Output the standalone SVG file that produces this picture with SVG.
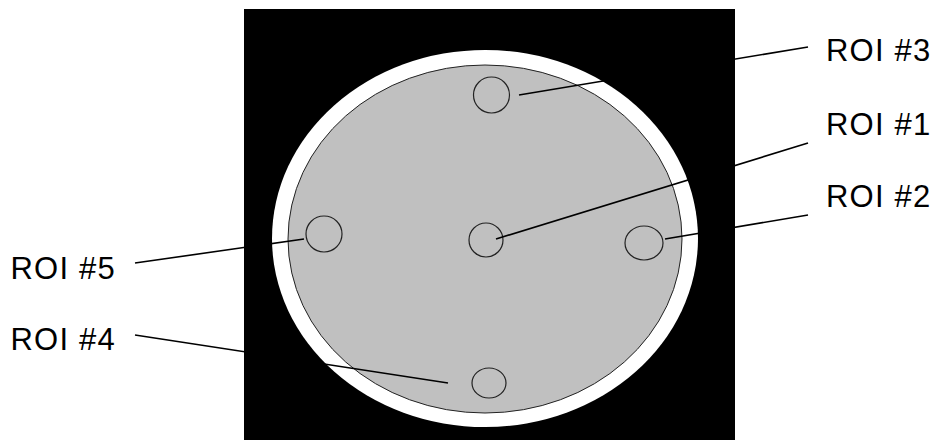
<svg xmlns="http://www.w3.org/2000/svg" width="935" height="440" viewBox="0 0 935 440">
<style>
.lbl{font-family:"Liberation Sans",Arial,sans-serif;font-size:31px;fill:#000;letter-spacing:1.2px}
.roi{fill:none;stroke:#222;stroke-width:1.2}
.ln{stroke:#000;stroke-width:1.6;fill:none}
</style>
<rect x="0" y="0" width="935" height="440" fill="#fff"/>
<g id="phantom">
<rect x="244" y="9" width="491" height="431" fill="#000"/>
<ellipse cx="485" cy="238.5" rx="213" ry="188.5" fill="#fff"/>
<ellipse cx="485" cy="239" rx="197" ry="174" fill="#c0c0c0" stroke="#222" stroke-width="1"/>
</g>
<g id="roi1"><ellipse class="roi" cx="486" cy="240" rx="17" ry="17"/><text class="lbl" x="826" y="135">ROI #1</text></g>
<g id="roi2"><ellipse class="roi" cx="644" cy="243" rx="19" ry="17"/><text class="lbl" x="826" y="206.5">ROI #2</text></g>
<g id="roi3"><ellipse class="roi" cx="491.5" cy="95" rx="18" ry="18"/><text class="lbl" x="826" y="60.5">ROI #3</text></g>
<g id="roi4"><ellipse class="roi" cx="489" cy="383" rx="17" ry="15"/><text class="lbl" x="10.5" y="350">ROI #4</text></g>
<g id="roi5"><ellipse class="roi" cx="324" cy="234" rx="18" ry="18"/><text class="lbl" x="10.5" y="279">ROI #5</text></g>
<g id="connectors">
<line class="ln" x1="519" y1="95" x2="808" y2="47"/>
<line class="ln" x1="496" y1="239" x2="808" y2="143"/>
<line class="ln" x1="665" y1="239" x2="808" y2="215"/>
<line class="ln" x1="135" y1="263" x2="304" y2="239"/>
<line class="ln" x1="135" y1="335" x2="448" y2="383"/>
</g>
</svg>
